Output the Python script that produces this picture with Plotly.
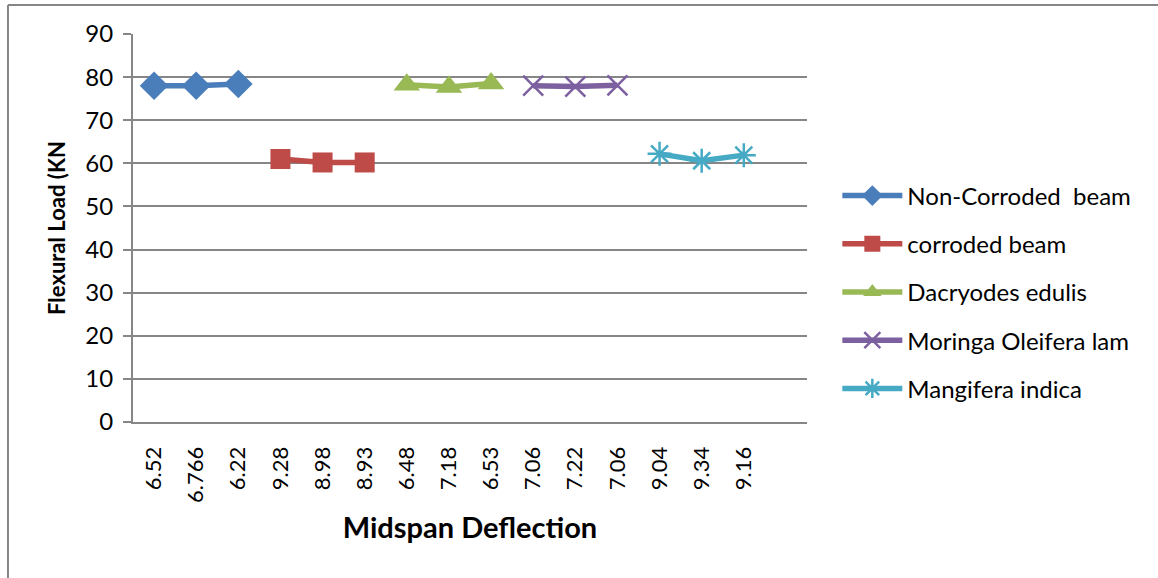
import plotly.graph_objects as go

# Midspan deflection labels (one category per test, in order)
deflection_labels = ["6.52", "6.766", "6.22", "9.28", "8.98", "8.93",
                     "6.48", "7.18", "6.53", "7.06", "7.22", "7.06",
                     "9.04", "9.34", "9.16"]

# Flexural load per series (kN)
non_corroded = [78.0, 78.0, 78.4]
corroded = [61.0, 60.2, 60.2]
dacryodes = [78.2, 77.7, 78.5]
moringa = [78.0, 77.8, 78.1]
mangifera = [62.2, 60.6, 61.9]

series_names = ["Non-Corroded  beam", "corroded beam", "Dacryodes edulis",
                "Moringa Oleifera lam", "Mangifera indica"]
series_values = [non_corroded, corroded, dacryodes, moringa, mangifera]
series_colors = ["#4A7EBB", "#BE4B48", "#98B954", "#7D60A0", "#46AAC5"]
series_symbols = ["diamond", "square", "triangle-up", "x-thin-open", "asterisk-open"]
series_sizes = [22, 20, 23, 20, 20]

FONT = "Lato"
GRID = "#868686"

fig = go.Figure()
for k, (name, vals, col, sym, sz) in enumerate(
        zip(series_names, series_values, series_colors, series_symbols, series_sizes)):
    xs = list(range(3 * k, 3 * k + len(vals)))
    open_sym = sym.endswith("-open")
    fig.add_trace(go.Scatter(
        x=xs, y=vals, name=name, mode="lines+markers",
        legendgroup=name,
        line=dict(color=col, width=5.5),
        marker=dict(symbol=sym, size=sz, color=col,
                    line=dict(color=col, width=2.5 if open_sym else 0)),
    ))

fig.update_layout(
    width=1158, height=578,
    margin=dict(l=133, r=351, t=34, b=156),
    paper_bgcolor="white", plot_bgcolor="white",
    font=dict(family=FONT, size=22, color="#000000"),
    showlegend=True,
    legend=dict(x=1.045, xanchor="left", y=0.335, yanchor="middle",
                traceorder="grouped", tracegroupgap=14,
                font=dict(family=FONT, size=24, color="#000000"),
                itemwidth=60, bgcolor="rgba(0,0,0,0)"),
    xaxis=dict(
        range=[-0.5, 15.5],
        tickmode="array",
        tickvals=list(range(len(deflection_labels))),
        ticktext=deflection_labels,
        tickangle=-90,
        ticks="", ticklabelstandoff=14,
        showgrid=False, zeroline=False,
        showline=True, linecolor=GRID, linewidth=2,
        tickfont=dict(family=FONT, size=22),
        title=dict(text="<b>Midspan Deflection</b>", standoff=16,
                   font=dict(family=FONT, size=29)),
    ),
    yaxis=dict(
        range=[0, 90], dtick=10,
        ticks="outside", ticklen=8, tickcolor=GRID, tickwidth=1.5,
        ticklabelstandoff=5,
        showgrid=True, gridcolor=GRID, gridwidth=1.5,
        zeroline=False,
        showline=True, linecolor=GRID, linewidth=2,
        tickfont=dict(family=FONT, size=24),
        title=dict(text="<b>Flexural Load (KN</b>", standoff=14,
                   font=dict(family=FONT, size=22)),
    ),
)

# Chart-area border (top and left edges)
fig.add_shape(type="line", xref="paper", yref="paper",
              x0=-0.1855, y0=1.0747, x1=1.53, y1=1.0747,
              line=dict(color=GRID, width=2))
fig.add_shape(type="line", xref="paper", yref="paper",
              x0=-0.1855, y0=1.0747, x1=-0.1855, y1=-0.41,
              line=dict(color=GRID, width=2))

fig.write_html("out.html")
